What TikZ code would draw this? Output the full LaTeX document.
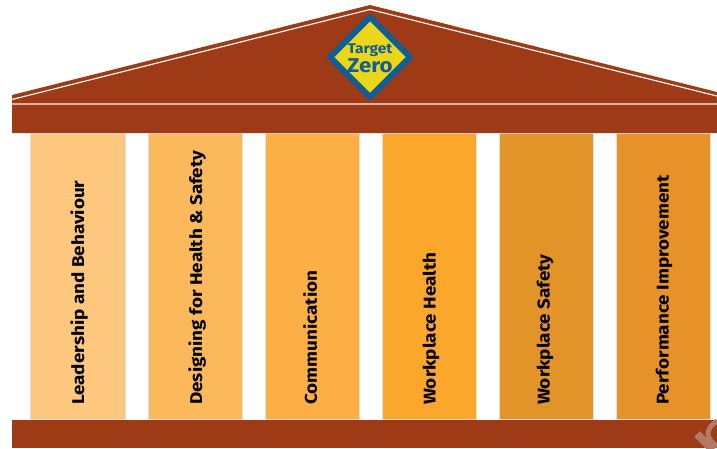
\documentclass[tikz,border=0pt]{standalone}
\usepackage{fontspec}
\setmainfont{Fira Sans}
\newfontfamily\pillarfont[FakeStretch=1.11]{Fira Sans}
\definecolor{brick}{HTML}{9E3B16}
\definecolor{dblue}{HTML}{0F5E96}
\definecolor{dyellow}{HTML}{EBD61A}
\definecolor{pa}{HTML}{FDC77E}
\definecolor{pb}{HTML}{FBB95C}
\definecolor{pc}{HTML}{FCAF45}
\definecolor{pd}{HTML}{FBA72B}
\definecolor{pe}{HTML}{E39429}
\definecolor{pf}{HTML}{E79229}
\definecolor{wmark}{HTML}{B27A66}
\tikzset{
  pillar/.style={fill=#1,draw=black!12,line width=0.6pt},
  pillartext/.style={rotate=90,anchor=west,inner sep=0pt,font=\pillarfont\fontsize{17pt}{19pt}\selectfont\bfseries,text=black},
  rule/.style={draw=white,line width=1.1pt},
  softrule/.style={draw=white!60!brick,line width=2.2pt},
}
\begin{document}
\begin{tikzpicture}[x=1pt,y=-1pt]
\useasboundingbox (0,0) rectangle (717,448);
\fill[white] (0,0) rectangle (717,448);
% columns
\draw[pillar=pa] (30,133) rectangle (125,419);
\draw[pillar=pb] (148,133) rectangle (242,419);
\draw[pillar=pc] (265,133) rectangle (359,419);
\draw[pillar=pd] (382,133) rectangle (476,419);
\draw[pillar=pe] (499,133) rectangle (593,419);
\draw[pillar=pf] (616,133) rectangle (710,419);
% roof
\fill[brick] (12,95) -- (370,5) -- (717,92) -- (717,133) -- (12,133) -- cycle;
\draw[rule] (12,99.5) -- (370,9.5) -- (717,96);
\draw[softrule] (12,104) -- (717,104);
% base
\fill[brick] (12,419.5) rectangle (717,448);
% watermark fragment
\begin{scope}
\clip (12,419.5) rectangle (717,448);
\draw[wmark,line width=8pt] (697,434) -- (713,450);
\draw[wmark,line width=5pt] (717,421) .. controls (706,428) and (704,438) .. (717,446);
\end{scope}
% sign
\draw[fill=dyellow,draw=dblue,line width=6pt,line join=round]
  (370,17) -- (410,57) -- (370,97) -- (330,57) -- cycle;
\node[inner sep=0pt,text=dblue,font=\pillarfont\fontsize{14pt}{15pt}\selectfont\bfseries] (tgt) at (370,50) {Target};
\node[inner sep=0pt,text=dblue,font=\pillarfont\fontsize{20pt}{21pt}\selectfont\bfseries] (zero) at (370,65.5) {Zero};
% labels
\node[pillartext] (l1) at (79,405) {Leadership and Behaviour};
\node[pillartext] (l2) at (197,405) {Designing for Health \& Safety};
\node[pillartext] (l3) at (310,405) {Communication};
\node[pillartext] (l4) at (431,405) {Workplace Health};
\node[pillartext] (l5) at (545,405) {Workplace Safety};
\node[pillartext] (l6) at (664,405) {Performance Improvement};
\end{tikzpicture}
\end{document}
